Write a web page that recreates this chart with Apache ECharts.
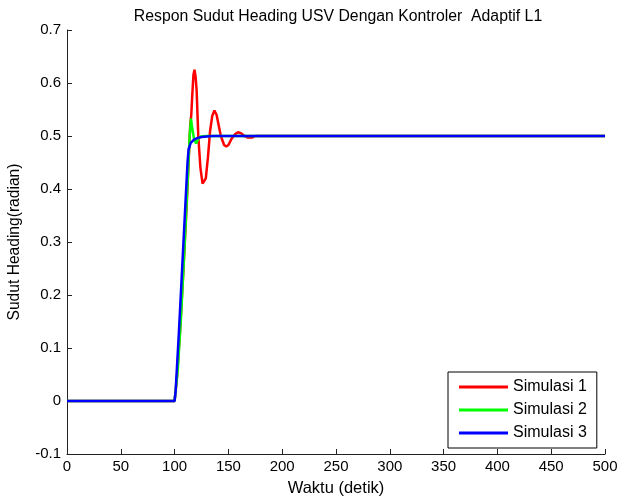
<!DOCTYPE html>
<html>
<head>
<meta charset="utf-8">
<title>Respon Sudut Heading USV</title>
<style>
  body, html { margin: 0; padding: 0; background: #fff; }
</style>
</head>
<body>
<div id="container" style="width: 620px; height: 498px"></div>
<script src="https://cdn.jsdelivr.net/npm/echarts@6/dist/echarts.min.js"></script>
<script>
// waktu (detik) dan respon tiap simulasi
var t1 = [0, 100, 102, 105, 108, 111, 113, 114.5, 115.5, 116.5, 117.5, 118.5, 119.5, 120.5, 122, 124, 126, 127.5, 129, 131, 133, 135, 137, 139, 141, 143, 146, 148, 150, 153, 156, 159, 162, 165, 168, 172, 175, 500];
var sim1 = [0, 0, 0.04, 0.13, 0.24, 0.36, 0.45, 0.52, 0.54, 0.58, 0.615, 0.625, 0.612, 0.585, 0.5, 0.44, 0.41, 0.407, 0.42, 0.46, 0.51, 0.538, 0.548, 0.54, 0.52, 0.5, 0.483, 0.48, 0.483, 0.495, 0.503, 0.507, 0.505, 0.5, 0.497, 0.497, 0.5, 0.5];
var t2 = [0, 100, 103, 106, 109, 112, 114, 115.2, 116, 118, 120, 122, 124, 130, 500];
var sim2 = [0, 0, 0.06, 0.16, 0.28, 0.41, 0.5, 0.533, 0.52, 0.495, 0.486, 0.495, 0.499, 0.5, 0.5];
var t3 = [0, 100, 101, 104, 107, 110, 112, 113, 115, 118, 121, 125, 130, 135, 500];
var sim3 = [0, 0, 0.02, 0.13, 0.25, 0.37, 0.45, 0.475, 0.487, 0.493, 0.496, 0.498, 0.499, 0.5, 0.5];
var names = ['Simulasi 1', 'Simulasi 2', 'Simulasi 3'];
var colors = ['#ff0000', '#00ff00', '#0000ff'];

function pairs(t, v) {
  var out = [];
  for (var i = 0; i < t.length; i++) out.push([t[i], v[i]]);
  return out;
}

var chart = echarts.init(document.getElementById('container'));
var font = 'Arial, "Liberation Sans", sans-serif';
var axisColor = '#222';

chart.setOption({
  animation: false,
  backgroundColor: '#fff',
  title: {
    text: 'Respon Sudut Heading USV Dengan Kontroler  Adaptif L1',
    left: 333,
    textAlign: 'center',
    top: 4,
    textStyle: { fontFamily: font, fontSize: 15.8, fontWeight: 'normal', color: '#000' }
  },
  grid: { left: 67, right: 15, top: 30, bottom: 44, outerBoundsMode: 'none', containLabel: false },
  legend: {
    data: names,
    orient: 'vertical',
    left: 448,
    top: 372,
    padding: [7, 10, 7, 11],
    itemGap: 7,
    itemWidth: 49,
    itemHeight: 3,
    icon: 'rect',
    borderColor: '#000',
    borderWidth: 1,
    backgroundColor: '#fff',
    textStyle: { fontFamily: font, fontSize: 16, color: '#000' }
  },
  xAxis: {
    type: 'value',
    min: 0, max: 500, interval: 50,
    name: 'Waktu (detik)',
    nameLocation: 'middle',
    nameGap: 26,
    nameTextStyle: { fontFamily: font, fontSize: 16.5, color: '#000' },
    axisLine: { onZero: false, lineStyle: { color: axisColor, width: 1 } },
    axisTick: { inside: true, length: 5, lineStyle: { color: axisColor } },
    axisLabel: { fontFamily: font, fontSize: 15, color: '#000', margin: 5 },
    splitLine: { show: false }
  },
  yAxis: {
    type: 'value',
    min: -0.1, max: 0.7, interval: 0.1,
    name: 'Sudut Heading(radian)',
    nameLocation: 'middle',
    nameGap: 44,
    nameTextStyle: { fontFamily: font, fontSize: 15.6, color: '#000' },
    axisLine: { show: true, onZero: false, lineStyle: { color: axisColor, width: 1 } },
    axisTick: { show: true, inside: true, length: 5, lineStyle: { color: axisColor } },
    axisLabel: {
      fontFamily: font, fontSize: 15, color: '#000', margin: 6,
      formatter: function (v) { return Math.abs(v) < 1e-9 ? '0' : String(Math.round(v * 10) / 10); }
    },
    splitLine: { show: false }
  },
  series: [
    { name: names[0], type: 'line', data: pairs(t1, sim1), showSymbol: false, color: colors[0], lineStyle: { width: 2.5 } },
    { name: names[1], type: 'line', data: pairs(t2, sim2), showSymbol: false, color: colors[1], lineStyle: { width: 2.5 } },
    { name: names[2], type: 'line', data: pairs(t3, sim3), showSymbol: false, color: colors[2], lineStyle: { width: 2.5 } }
  ]
});
</script>
</body>
</html>
